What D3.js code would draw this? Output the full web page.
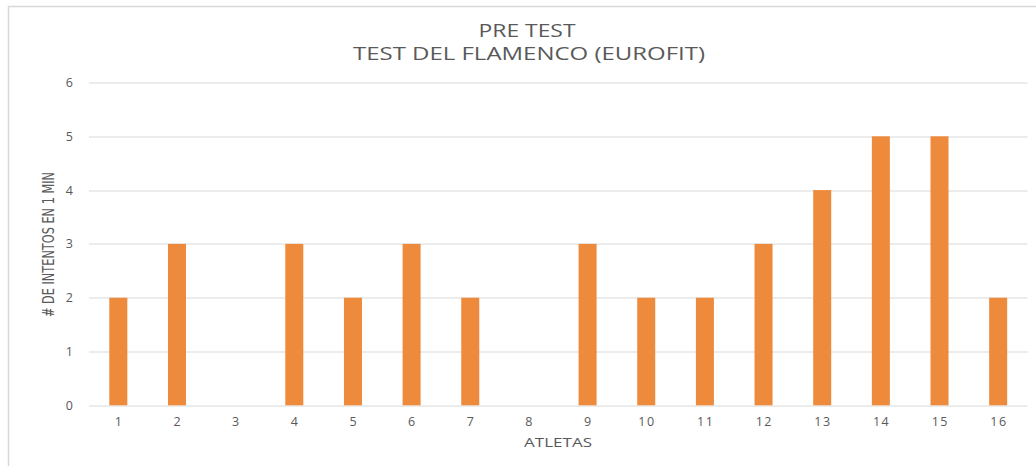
<!DOCTYPE html>
<html>
<head>
  <meta charset="utf-8">
  <script src="https://cdnjs.cloudflare.com/ajax/libs/d3/7.8.5/d3.min.js"></script>
  <style>
    body { margin: 0; padding: 0; background: #fff; }
    text { font-family: "Open Sans", "Liberation Sans", sans-serif; fill: #595959; }
  </style>
</head>
<body>
  <svg width="1036" height="466"></svg>
  <script>
    // data
    let athletes = ["1", "2", "3", "4", "5", "6", "7", "8", "9", "10", "11", "12", "13", "14", "15", "16"];
    let attempts = [2, 3, 0, 3, 2, 3, 2, 0, 3, 2, 2, 3, 4, 5, 5, 2];
    let yTicks = [0, 1, 2, 3, 4, 5, 6];
    let titleLines = ["PRE TEST", "TEST DEL FLAMENCO (EUROFIT)"];
    let xTitle = "ATLETAS";
    let yTitle = "# DE INTENTOS EN 1 MIN";

    let svg = d3.select("svg"),
      margin = { top: 82.5, right: 8.5, bottom: 60.7, left: 89 },
      width = svg.attr("width") - margin.left - margin.right,
      height = svg.attr("height") - margin.top - margin.bottom,
      g = svg.append("g").attr("transform", "translate(" + margin.left + "," + margin.top + ")");

    // chart frame (only top and left edges visible)
    svg.append("path")
      .attr("d", "M8.5,466 V6.5 H1036")
      .attr("fill", "none")
      .attr("stroke", "#d9d9d9")
      .attr("stroke-width", 1.5);

    let x = d3.scaleBand().domain(athletes).range([0, width]).paddingInner(0.693).paddingOuter(0.3465),
      y = d3.scaleLinear().domain([0, 6]).range([height, 0]);

    //gridlines
    g.selectAll(".grid")
      .data(yTicks)
      .enter().append("line")
      .attr("x1", 0)
      .attr("x2", width)
      .attr("y1", function(d) { return Math.round(y(d)) + 0.5; })
      .attr("y2", function(d) { return Math.round(y(d)) + 0.5; })
      .attr("stroke", "#d9d9d9")
      .attr("stroke-width", 1.2);

    //y tick labels
    let yAxis = g.append("g")
      .call(d3.axisLeft(y).tickValues(yTicks).tickSize(0).tickPadding(16).tickFormat(d3.format("d")));
    yAxis.select(".domain").remove();
    yAxis.selectAll("text").style("font-size", "12.5px").attr("fill", "#595959");

    //bars
    g.selectAll(".bar")
      .data(attempts)
      .enter().append("rect")
      .attr("class", "bar")
      .attr("x", function(d, i) { return x(athletes[i]); })
      .attr("width", x.bandwidth())
      .attr("y", function(d) { return y(d); })
      .attr("height", function(d) { return height - y(d); })
      .attr("fill", "#ee8a3b");

    //x tick labels
    let xAxis = g.append("g")
      .attr("transform", "translate(0," + height + ")")
      .call(d3.axisBottom(x).tickSize(0).tickPadding(12));
    xAxis.select(".domain").remove();
    xAxis.selectAll("text")
      .style("font-size", "12.5px")
      .style("letter-spacing", "1.5px")
      .attr("dx", "0.75px")
      .attr("fill", "#595959");

    //title
    svg.append("text")
      .attr("x", 527)
      .attr("y", 37)
      .attr("text-anchor", "middle")
      .attr("textLength", 97)
      .attr("lengthAdjust", "spacingAndGlyphs")
      .style("font-size", "18px")
      .text(titleLines[0]);
    svg.append("text")
      .attr("x", 529)
      .attr("y", 60)
      .attr("text-anchor", "middle")
      .attr("textLength", 352)
      .attr("lengthAdjust", "spacingAndGlyphs")
      .style("font-size", "18px")
      .text(titleLines[1]);

    //axis titles
    svg.append("text")
      .attr("x", 558)
      .attr("y", 447)
      .attr("text-anchor", "middle")
      .attr("textLength", 68)
      .attr("lengthAdjust", "spacingAndGlyphs")
      .style("font-size", "13px")
      .text(xTitle);

    svg.append("text")
      .attr("transform", "translate(54,244.5) rotate(-90)")
      .attr("text-anchor", "middle")
      .attr("textLength", 145)
      .attr("lengthAdjust", "spacingAndGlyphs")
      .style("font-family", "'Liberation Sans Narrow', 'DejaVu Sans Condensed', sans-serif")
      .style("font-size", "15.5px")
      .text(yTitle);
  </script>
</body>
</html>
